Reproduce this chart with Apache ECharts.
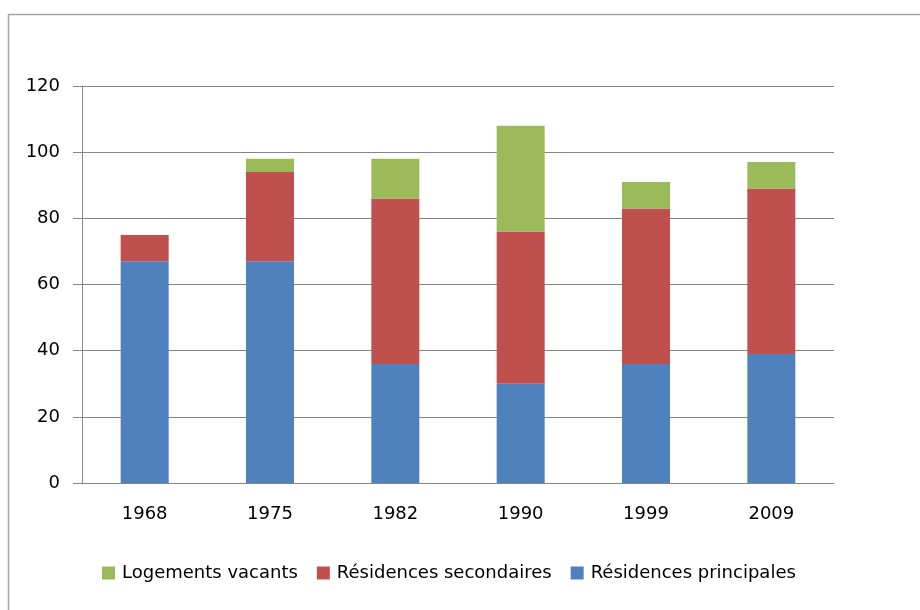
<!DOCTYPE html>
<html><head><meta charset="utf-8">
<script src="https://cdn.jsdelivr.net/npm/echarts@6/dist/echarts.min.js"></script>
<style>html,body{margin:0;padding:0;background:#fff}#c{width:920px;height:610px}</style>
</head><body><div id="c"></div>
<script>
const categories = ['1968','1975','1982','1990','1999','2009'];
const principales = [67, 67, 36, 30, 36, 39];
const secondaires = [8, 27, 50, 46, 47, 50];
const vacants = [0, 4, 12, 32, 8, 8];
const yTicks = [0, 20, 40, 60, 80, 100, 120];

const FONT = 'DejaVu Sans';
const axisGray = '#868686';
const chart = echarts.init(document.getElementById('c'));
chart.setOption({
  animation: false,
  textStyle: {fontFamily: FONT},
  graphic: [{type:'rect', shape:{x:8.5, y:14.5, width:930, height:620}, style:{fill:'none', stroke:'#a6a6a6', lineWidth:1.5}}],
  legend: {
    left: 97, top: 559, itemWidth: 13, itemHeight: 13, itemGap: 19,
    icon: 'rect',
    textStyle: {fontSize: 18, color: '#000', fontFamily: FONT, padding: [0, 0, 0, 2]},
    data: ['Logements vacants','Résidences secondaires','Résidences principales']
  },
  grid: {left: 82, right: 86, top: 86, bottom: 127},
  xAxis: {
    type: 'category', data: categories,
    axisLine: {lineStyle: {color: axisGray, width: 1}},
    axisTick: {alignWithLabel: false, length: 8, lineStyle: {color: axisGray}},
    axisLabel: {fontSize: 18, color: '#000', margin: 22, fontFamily: FONT}
  },
  yAxis: {
    type: 'value', min: yTicks[0], max: yTicks[yTicks.length-1], interval: 20,
    axisLine: {show: true, lineStyle: {color: axisGray}},
    axisTick: {show: true, length: 9, lineStyle: {color: axisGray}},
    splitLine: {lineStyle: {color: axisGray}},
    axisLabel: {fontSize: 18, color: '#000', margin: 22, fontFamily: FONT}
  },
  series: [
    {name:'Résidences principales', type:'bar', stack:'t', data: principales, barWidth: 48, itemStyle:{color:'#4F81BD'}},
    {name:'Résidences secondaires', type:'bar', stack:'t', data: secondaires, barWidth: 48, itemStyle:{color:'#C0504D'}},
    {name:'Logements vacants', type:'bar', stack:'t', data: vacants, barWidth: 48, itemStyle:{color:'#9BBB59'}}
  ]
});
</script></body></html>
